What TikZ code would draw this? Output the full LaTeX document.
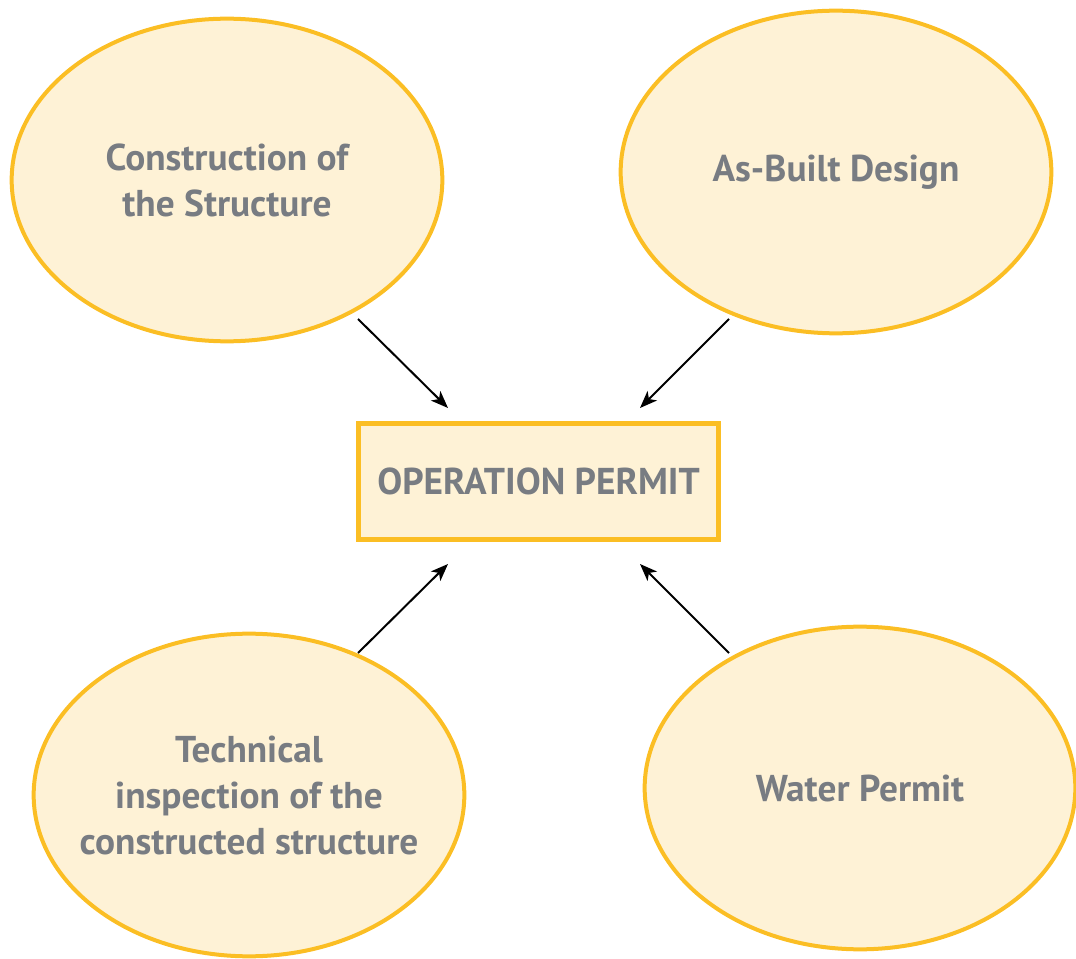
\documentclass[tikz,border=0pt]{standalone}
\usepackage{fontspec}
\setmainfont{PT Sans}
\usetikzlibrary{shapes.geometric,arrows.meta}
\definecolor{ovalfill}{RGB}{254,242,214}
\definecolor{ovaldraw}{RGB}{251,190,36}
\definecolor{labelgray}{RGB}{120,124,130}
\begin{document}
\begin{tikzpicture}[x=0.75pt, y=-0.75pt,
    oval/.style={ellipse, draw=ovaldraw, fill=ovalfill, line width=3pt, inner sep=-40pt,
        minimum width=323pt, minimum height=242pt, align=center, text=labelgray,
        font=\fontsize{28}{34.5}\selectfont\bfseries},
    permit/.style={rectangle, draw=ovaldraw, fill=ovalfill, line width=3.75pt,
        minimum width=270pt, minimum height=87pt, text=labelgray,
        font=\fontsize{28}{34.5}\selectfont\bfseries},
    arrow/.style={-{Stealth[length=13pt, width=10pt, inset=3.5pt]}, line width=1.5pt, black}]
    \useasboundingbox (0, 0) rectangle (1076, 959);

    \node[oval] (build) at (227, 180) {Construction of\\the Structure};
    \node[oval] (design) at (836, 172) {As-Built Design};
    \node[oval] (inspect) at (249, 795) {Technical\\inspection of the\\constructed structure};
    \node[oval] (water) at (860, 788) {Water Permit};

    \node[permit] (op) at (538.5, 481.5) {OPERATION PERMIT};

    \draw[arrow] ([shift={(131, 139)}]build.center) -- ([shift={(-90.5, -73.5)}]op.center);
    \draw[arrow] ([shift={(-107, 147)}]design.center) -- ([shift={(101.5, -73.5)}]op.center);
    \draw[arrow] ([shift={(109, -142)}]inspect.center) -- ([shift={(-90.5, 82.5)}]op.center);
    \draw[arrow] ([shift={(-131, -135)}]water.center) -- ([shift={(101.5, 82.5)}]op.center);
\end{tikzpicture}
\end{document}
